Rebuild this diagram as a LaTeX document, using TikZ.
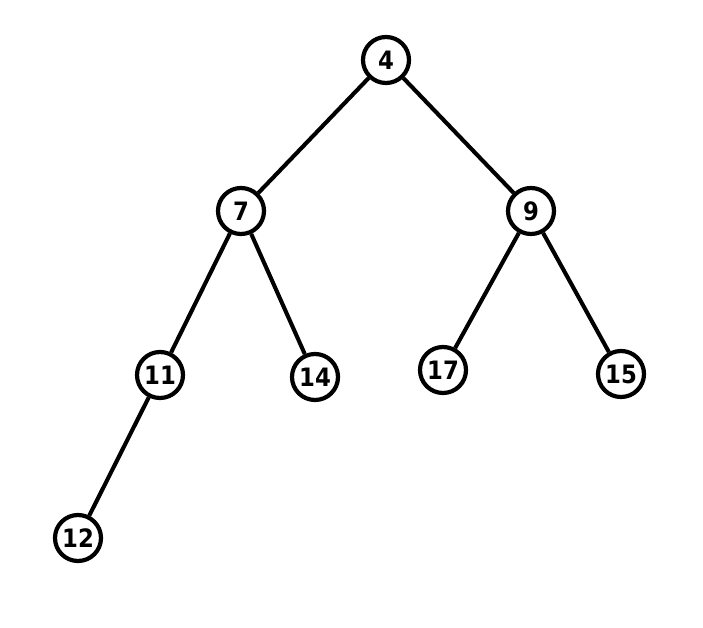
\documentclass[tikz,border=0pt]{standalone}
\usepackage{fontspec}
\newfontfamily\treefont{DejaVu Sans Condensed}
\begin{document}
\begin{tikzpicture}
        [x=0.025cm, y=-0.025cm,
        node/.style={circle, draw, line width=3pt, minimum size=1.15cm, inner sep=0pt, font=\treefont\bfseries\fontsize{18}{20}\selectfont},
        edge/.style={line width=2.9pt}]

        \useasboundingbox (0,0) rectangle (703,628);

        % Vertices of the tree, level by level
        \node[node] (n4) at (386,60) {4};
        \node[node] (n7) at (241,211) {7};
        \node[node] (n9) at (531,211) {9};
        \node[node] (n11) at (160,375) {11};
        \node[node] (n14) at (315,377) {14};
        \node[node] (n17) at (443,370) {17};
        \node[node] (n15) at (621,374) {15};
        \node[node] (n12) at (78,538) {12};

        % Tree edges
        \draw[edge] (n4) -- (n7);
        \draw[edge] (n4) -- (n9);
        \draw[edge] (n7) -- (n11);
        \draw[edge] (n7) -- (n14);
        \draw[edge] (n9) -- (n17);
        \draw[edge] (n9) -- (n15);
        \draw[edge] (n11) -- (n12);

    \end{tikzpicture}
\end{document}
